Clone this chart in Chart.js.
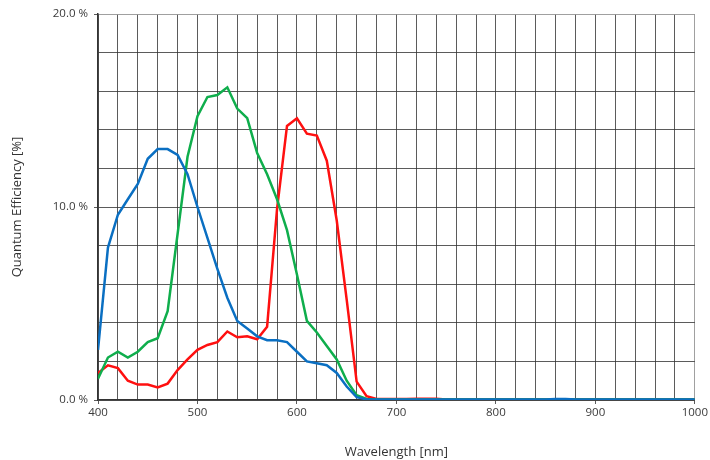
<!DOCTYPE html>
<html>
<head>
<meta charset="utf-8">
<script src="https://cdn.jsdelivr.net/npm/chart.js@4.4.1/dist/chart.umd.min.js"></script>
<style>
  html, body { margin: 0; padding: 0; background: #fff; }
  #wrap { width: 710px; height: 460px; }
</style>
</head>
<body>
<div id="wrap"><canvas id="qe"></canvas></div>
<script>
//Wavelength steps in nm (400..1000, every 10)
const wavelengths = [
  400, 410, 420, 430, 440, 450, 460, 470, 480, 490,
  500, 510, 520, 530, 540, 550, 560, 570, 580, 590,
  600, 610, 620, 630, 640, 650, 660, 670, 680, 690,
  700, 710, 720, 730, 740, 750, 760, 770, 780, 790,
  800, 810, 820, 830, 840, 850, 860, 870, 880, 890,
  900, 910, 920, 930, 940, 950, 960, 970, 980, 990, 1000
];
//Quantum efficiency in %
const blueQE = [
  2.6, 7.9, 9.6, 10.4, 11.2, 12.5, 13.0, 13.0, 12.7, 11.7,
  10.0, 8.4, 6.8, 5.3, 4.1, 3.7, 3.3, 3.1, 3.1, 3.0,
  2.5, 2.0, 1.9, 1.8, 1.4, 0.7, 0.15, 0.03, 0.02, 0.02,
  0.02, 0.02, 0.02, 0.02, 0.02, 0.02, 0.02, 0.02, 0.02, 0.02,
  0.02, 0.02, 0.02, 0.02, 0.03, 0.03, 0.05, 0.05, 0.03, 0.02,
  0.02, 0.02, 0.02, 0.02, 0.02, 0.02, 0.02, 0.02, 0.02, 0.02, 0.02
];
const greenQE = [
  1.1, 2.2, 2.5, 2.2, 2.5, 3.0, 3.2, 4.6, 8.6, 12.6,
  14.7, 15.7, 15.8, 16.2, 15.1, 14.6, 12.8, 11.7, 10.4, 8.8,
  6.5, 4.1, 3.5, 2.8, 2.1, 1.0, 0.25, 0.05, 0.02, 0.02,
  0.02, 0.02, 0.02, 0.02, 0.02, 0.02, 0.02, 0.02, 0.02, 0.02,
  0.02, 0.02, 0.02, 0.02, 0.02, 0.02, 0.02, 0.02, 0.02, 0.02,
  0.02, 0.02, 0.02, 0.02, 0.02, 0.02, 0.02, 0.02, 0.02, 0.02, 0.02
];
const redQE = [
  1.4, 1.8, 1.65, 1.0, 0.8, 0.8, 0.65, 0.85, 1.55, 2.1,
  2.6, 2.85, 3.0, 3.55, 3.25, 3.3, 3.15, 3.8, 9.9, 14.2,
  14.6, 13.8, 13.7, 12.4, 9.3, 5.2, 0.95, 0.2, 0.05, 0.05,
  0.05, 0.05, 0.06, 0.07, 0.07, 0.02, 0.02, 0.02, 0.02, 0.02,
  0.02, 0.02, 0.02, 0.02, 0.02, 0.02, 0.02, 0.02, 0.02, 0.02,
  0.02, 0.02, 0.02, 0.02, 0.02, 0.02, 0.02, 0.02, 0.02, 0.02, 0.02
];
//Which tick values get a label
const xLabelTicks = [400, 500, 600, 700, 800, 900, 1000];
const yLabelTicks = [0, 10, 20];

const toPoints = (arr) => arr.map((v, i) => ({ x: wavelengths[i], y: v }));
const gridColor = "rgba(50,50,50,0.8)";
const fontFamily = "'Open Sans', 'Noto Sans', sans-serif";

const line = (label, color, values) => ({
  label: label,
  data: toPoints(values),
  borderColor: color,
  backgroundColor: color,
  borderWidth: 2.5,
  pointRadius: 0,
  tension: 0,
  fill: false,
});

new Chart(document.getElementById("qe"), {
  type: "line",
  data: {
    //first dataset is drawn on top
    datasets: [
      line("Blue", "#0a6fc2", blueQE),
      line("Green", "#0fae4c", greenQE),
      line("Red", "#ff1010", redQE),
    ],
  },
  options: {
    responsive: true,
    maintainAspectRatio: false,
    animation: false,
    layout: { padding: { left: 0, top: 14, right: 14, bottom: 0 } },
    plugins: {
      legend: { display: false },
      tooltip: { enabled: false },
    },
    scales: {
      x: {
        type: "linear",
        min: 400,
        max: 1000,
        ticks: {
          stepSize: 20,
          autoSkip: false,
          maxRotation: 0,
          color: "#3a3a3a",
          font: { family: fontFamily, size: 11.5 },
          padding: 2,
          callback: (v) => (xLabelTicks.includes(v) ? String(v) : ""),
        },
        grid: {
          color: (ctx) => (ctx.tick && ctx.tick.value === 1000 ? "rgba(150,150,150,0.9)" : gridColor),
          tickColor: (ctx) => (ctx.tick && xLabelTicks.includes(ctx.tick.value) ? gridColor : "rgba(0,0,0,0)"),
          tickLength: 4,
        },
        border: { color: "#333", width: 1.5 },
        title: {
          display: true,
          text: "Wavelength [nm]",
          color: "#333",
          font: { family: fontFamily, size: 13 },
          padding: { top: 0, bottom: 0 },
        },
        afterFit: (scale) => { scale.height = 60; },
      },
      y: {
        min: 0,
        max: 20,
        ticks: {
          stepSize: 2,
          autoSkip: false,
          color: "#3a3a3a",
          font: { family: fontFamily, size: 11.5 },
          padding: 6,
          callback: (v) => (yLabelTicks.includes(v) ? v.toFixed(1) + " %" : ""),
        },
        grid: {
          color: (ctx) => (ctx.tick && ctx.tick.value === 20 ? "rgba(150,150,150,0.9)" : gridColor),
          tickColor: (ctx) => (ctx.tick && yLabelTicks.includes(ctx.tick.value) ? gridColor : "rgba(0,0,0,0)"),
          tickLength: 4,
        },
        border: { color: "#333", width: 1.5 },
        title: {
          display: true,
          text: "Quantum Efficiency [%]",
          color: "#333",
          font: { family: fontFamily, size: 13 },
          padding: { top: 9, bottom: 0 },
        },
        afterFit: (scale) => { scale.width = 98; },
      },
    },
  },
});
</script>
</body>
</html>
